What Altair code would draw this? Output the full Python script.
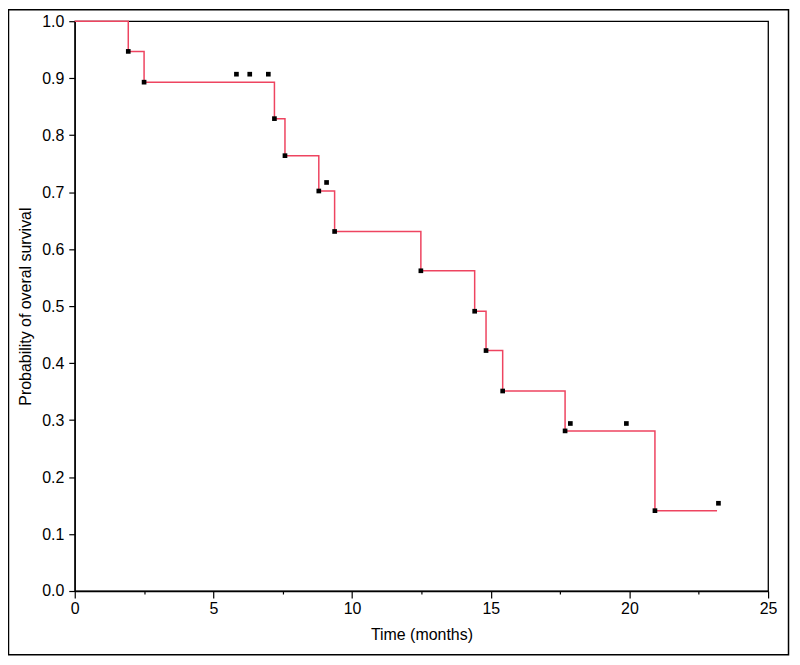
import altair as alt
import pandas as pd

# Kaplan-Meier step curve (time in months, survival probability)
step_time = [0, 1.93, 2.50, 7.20, 7.58, 8.80, 9.37, 12.48, 14.42, 14.83, 15.43, 17.68, 20.92, 23.16]
step_surv = [1.0, 0.947, 0.893, 0.829, 0.764, 0.702, 0.631, 0.562, 0.491, 0.422, 0.351, 0.281, 0.141, 0.141]

# event markers (at each drop)
event_time = [1.93, 2.50, 7.20, 7.58, 8.80, 9.37, 12.48, 14.42, 14.83, 15.43, 17.68, 20.92]
event_surv = [0.947, 0.893, 0.829, 0.764, 0.702, 0.631, 0.562, 0.491, 0.422, 0.351, 0.281, 0.141]

# censored markers
cens_time = [5.83, 6.31, 6.98, 9.08, 17.87, 19.89, 23.21]
cens_surv = [0.907, 0.907, 0.907, 0.717, 0.294, 0.294, 0.154]

x_ticks = [0, 2.5, 5, 7.5, 10, 12.5, 15, 17.5, 20, 22.5, 25]
y_ticks = [0.0, 0.1, 0.2, 0.3, 0.4, 0.5, 0.6, 0.7, 0.8, 0.9, 1.0]

step_df = pd.DataFrame({"t": step_time, "s": step_surv})
event_df = pd.DataFrame({"t": event_time, "s": event_surv})
cens_df = pd.DataFrame({"t": cens_time, "s": cens_surv})

FONT = "Liberation Sans"

x_enc = alt.X(
    "t:Q",
    scale=alt.Scale(domain=[0, 25], nice=False, zero=True),
    axis=alt.Axis(
        title="Time (months)",
        values=x_ticks,
        labelExpr="datum.value % 5 === 0 ? datum.label : ''",
        tickSize={"condition": {"test": "datum.value % 5 === 0", "value": 7}, "value": 3},
        labelPadding=3,
        titlePadding=10,
        labelFlush=False,
    ),
)
y_enc = alt.Y(
    "s:Q",
    scale=alt.Scale(domain=[0, 1], nice=False),
    axis=alt.Axis(
        title="Probability of overal survival",
        values=y_ticks,
        format=".1f",
        tickSize=6,
        labelPadding=5,
        titlePadding=8,
        labelFlush=False,
    ),
)

line = alt.Chart(step_df).mark_line(
    interpolate="step-after", color="#ee4460", strokeWidth=1.5
).encode(x=x_enc, y=y_enc)

events = alt.Chart(event_df).mark_square(
    color="black", size=22, opacity=1, filled=True
).encode(x="t:Q", y="s:Q")

censored = alt.Chart(cens_df).mark_square(
    color="black", size=22, opacity=1, filled=True
).encode(x="t:Q", y="s:Q")

frame = alt.Chart(pd.DataFrame({"a": [0]})).mark_rect(
    fill="white", fillOpacity=0, stroke="black", strokeWidth=1.5
).encode(
    x=alt.value(-66.5), x2=alt.value(716.5), y=alt.value(-11.5), y2=alt.value(636)
)

chart = (
    alt.layer(frame, line, events, censored)
    .properties(
        width=696,
        height=572,
        autosize=alt.AutoSizeParams(type="none"),
        padding={"left": 67, "top": 12, "right": 24, "bottom": 68},
        background="white",
    )
    .configure_view(stroke="black", strokeWidth=1.3)
    .configure_axis(
        grid=False,
        domainColor="black",
        domainWidth=1.3,
        tickColor="black",
        tickWidth=1.2,
        labelColor="black",
        titleColor="black",
        labelFont=FONT,
        titleFont=FONT,
        labelFontSize=16,
        titleFontSize=16,
        titleFontWeight="normal",
    )
)

chart.save("out.html", embed_options={"renderer": "svg", "actions": False})
